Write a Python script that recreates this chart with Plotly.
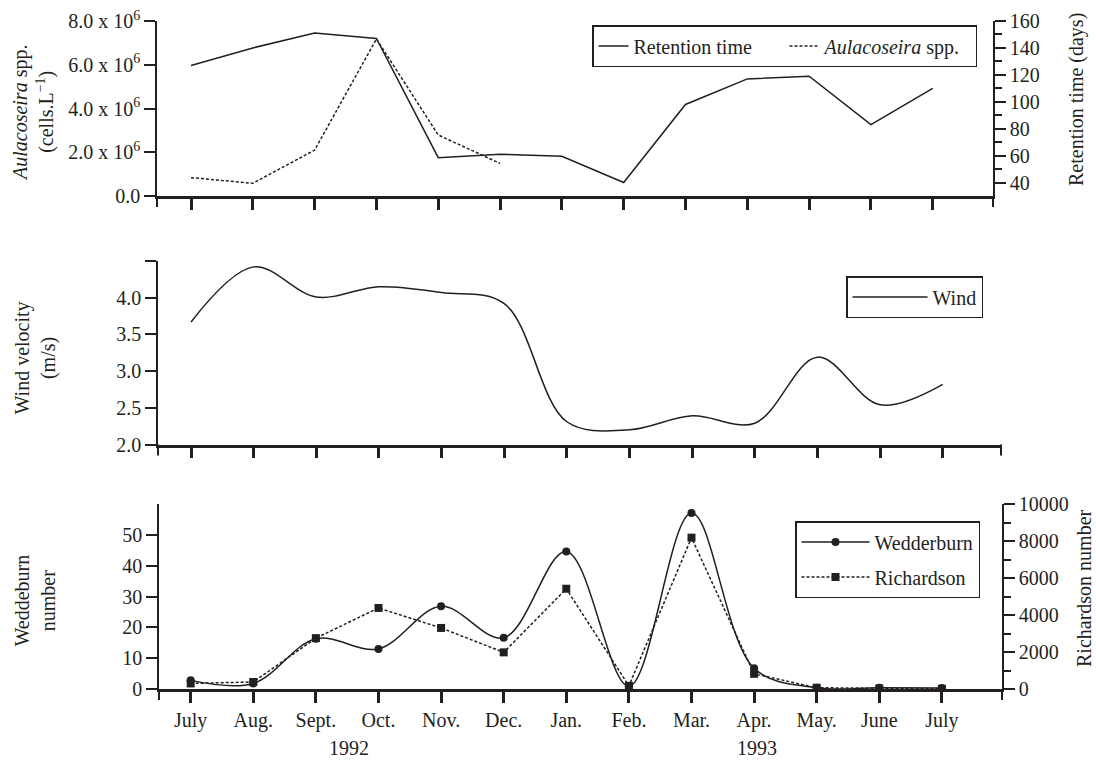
import plotly.graph_objects as go

# ---------------- data ----------------
months = ["July", "Aug.", "Sept.", "Oct.", "Nov.", "Dec.", "Jan.", "Feb.",
          "Mar.", "Apr.", "May.", "June", "July"]
month_idx = list(range(len(months)))

retention_days = [127, 140, 151, 147, 58.5, 61, 59.5, 40, 98, 117, 119, 83, 110]
aulacoseira_cells = [0.84e6, 0.58e6, 2.1e6, 7.18e6, 2.79e6, 1.49e6]
wind_velocity = [3.67, 4.42, 4.01, 4.15, 4.07, 3.92, 2.31, 2.2, 2.39, 2.29, 3.19, 2.54, 2.82]
wedderburn = [2.8, 1.8, 16.3, 13.0, 26.8, 16.6, 44.6, 0.9, 57.1, 6.7, 0.4, 0.4, 0.3]
richardson = [300, 380, 2750, 4380, 3300, 1980, 5420, 170, 8180, 820, 70, 30, 10]

aul_ticks = [0, 2e6, 4e6, 6e6, 8e6]
aul_ticktext = ["0.0", "2.0 x 10<sup>6</sup>", "4.0 x 10<sup>6</sup>",
                "6.0 x 10<sup>6</sup>", "8.0 x 10<sup>6</sup>"]
ret_ticks = [40, 60, 80, 100, 120, 140, 160]
ret_minor = [50, 70, 90, 110, 130, 150]
wind_ticks = [2.0, 2.5, 3.0, 3.5, 4.0, 4.5]
wind_ticktext = ["2.0", "2.5", "3.0", "3.5", "4.0", ""]
wed_ticks = [0, 10, 20, 30, 40, 50]
ri_ticks = [0, 2000, 4000, 6000, 8000, 10000]
ri_ticktext = ["0", "2000", "4000", "6000", "8000", "10000"]
ri_minor = [1000, 3000, 5000, 7000, 9000]

# ---------------- style ----------------
W, H = 1096, 760
INK = "#231f20"
FONT = "Liberation Serif, Times New Roman, serif"
FS = 20


def px(x):
    return x / W


def py(y):
    return 1 - y / H


fig = go.Figure()

fig.add_trace(go.Scatter(x=month_idx, y=retention_days, name="Retention time",
                         mode="lines", line=dict(color=INK, width=1.5),
                         xaxis="x", yaxis="y2", legend="legend"))
fig.add_trace(go.Scatter(x=month_idx[:len(aulacoseira_cells)], y=aulacoseira_cells,
                         name="<i>Aulacoseira</i> spp.", mode="lines",
                         line=dict(color=INK, width=1.5, dash="3px,2px"),
                         xaxis="x", yaxis="y", legend="legend"))
fig.add_trace(go.Scatter(x=month_idx, y=wind_velocity, name="Wind", mode="lines",
                         line=dict(color=INK, width=1.5, shape="spline"),
                         xaxis="x2", yaxis="y3", legend="legend2"))
fig.add_trace(go.Scatter(x=month_idx, y=wedderburn, name="Wedderburn",
                         mode="lines+markers",
                         line=dict(color=INK, width=1.5, shape="spline"),
                         marker=dict(symbol="circle", size=8, color=INK),
                         xaxis="x3", yaxis="y4", legend="legend3", legendgroup="w"))
fig.add_trace(go.Scatter(x=month_idx, y=richardson, name="Richardson",
                         mode="lines+markers",
                         line=dict(color=INK, width=1.5, dash="3px,2px"),
                         marker=dict(symbol="square", size=8, color=INK),
                         xaxis="x3", yaxis="y5", legend="legend3", legendgroup="r"))

axfont = dict(family=FONT, size=FS, color=INK)
common = dict(showgrid=False, zeroline=False, showline=True, linecolor=INK,
              ticks="outside", tickcolor=INK, tickfont=axfont, automargin=False)

xcommon = dict(common, linewidth=2.5, tickwidth=2.5, ticklen=11,
               tickmode="array", tickvals=month_idx)
ycommon = dict(common, linewidth=1.5, tickwidth=2, ticklen=11, tickmode="array")

fig.update_layout(
    xaxis=dict(xcommon, domain=[px(157), px(993)], anchor="y",
               range=[-0.55, 12.975], showticklabels=False),
    yaxis=dict(ycommon, domain=[py(196), py(21)], anchor="x", range=[0, 8e6],
               tickvals=aul_ticks, ticktext=aul_ticktext),
    yaxis2=dict(ycommon, overlaying="y", side="right", anchor="x", range=[30, 160],
                tickvals=ret_ticks,
                minor=dict(tickmode="array", tickvals=ret_minor, ticks="outside",
                           ticklen=7, tickwidth=1.5, tickcolor=INK, showgrid=False)),
    xaxis2=dict(xcommon, domain=[px(158), px(1001)], anchor="y3",
                range=[-0.527, 12.93], showticklabels=False),
    yaxis3=dict(ycommon, domain=[py(444.5), py(261)], anchor="x2", range=[2, 4.5],
                tickvals=wind_ticks, ticktext=wind_ticktext),
    xaxis3=dict(xcommon, domain=[px(159), px(1002)], anchor="y4",
                range=[-0.506, 12.96], ticktext=months, showticklabels=True),
    yaxis4=dict(ycommon, domain=[py(689), py(504)], anchor="x3", range=[0, 60],
                tickvals=wed_ticks),
    yaxis5=dict(ycommon, overlaying="y4", side="right", anchor="x3",
                range=[0, 10000], tickvals=ri_ticks, ticktext=ri_ticktext,
                minor=dict(tickmode="array", tickvals=ri_minor, ticks="outside",
                           ticklen=7, tickwidth=1.5, tickcolor=INK, showgrid=False)),
)

legend_style = dict(bgcolor="white", bordercolor=INK, borderwidth=1.5,
                    font=dict(family=FONT, size=FS, color=INK),
                    xanchor="left", yanchor="top")
fig.update_layout(
    legend=dict(legend_style, x=px(592), y=py(25), orientation="h",
                entrywidth=146, entrywidthmode="pixels"),
    legend2=dict(legend_style, x=px(846), y=py(276), itemwidth=75),
    legend3=dict(legend_style, x=px(795), y=py(521), tracegroupgap=6, itemwidth=68),
)

# axis-end marks that extend below the x axes
ends = [(157, 196), (993, 196), (158, 444.5), (1001, 444.5), (159, 689), (1002, 689)]
shapes = []
for ex, ey in ends:
    shapes.append(dict(type="line", xref="paper", yref="paper",
                       x0=px(ex), x1=px(ex), y0=py(ey), y1=py(ey + 11),
                       line=dict(color=INK, width=2)))

ann_font = dict(family=FONT, size=FS, color=INK)
annotations = [
    dict(text="<i>Aulacoseira</i> spp.<br>(cells.L<sup>\u22121</sup>)", x=px(34), y=py(113)),
    dict(text="Wind velocity<br>(m/s)", x=px(34.5), y=py(358)),
    dict(text="Weddeburn<br>number", x=px(34.5), y=py(601)),
    dict(text="Retention time (days)", x=px(1077), y=py(100)),
    dict(text="Richardson number", x=px(1084), y=py(588)),
]
for a in annotations:
    a.update(xref="paper", yref="paper", xanchor="center", yanchor="middle",
             textangle=-90, showarrow=False, font=ann_font)
annotations += [
    dict(text="1992", x=px(349), y=py(748), xref="paper", yref="paper",
         xanchor="center", yanchor="middle", showarrow=False, font=ann_font),
    dict(text="1993", x=px(757), y=py(748), xref="paper", yref="paper",
         xanchor="center", yanchor="middle", showarrow=False, font=ann_font),
]

fig.update_layout(width=W, height=H, margin=dict(l=0, r=0, t=0, b=0),
                  paper_bgcolor="white", plot_bgcolor="white",
                  font=dict(family=FONT, size=FS, color=INK),
                  shapes=shapes, annotations=annotations)

fig.write_html("out.html")
